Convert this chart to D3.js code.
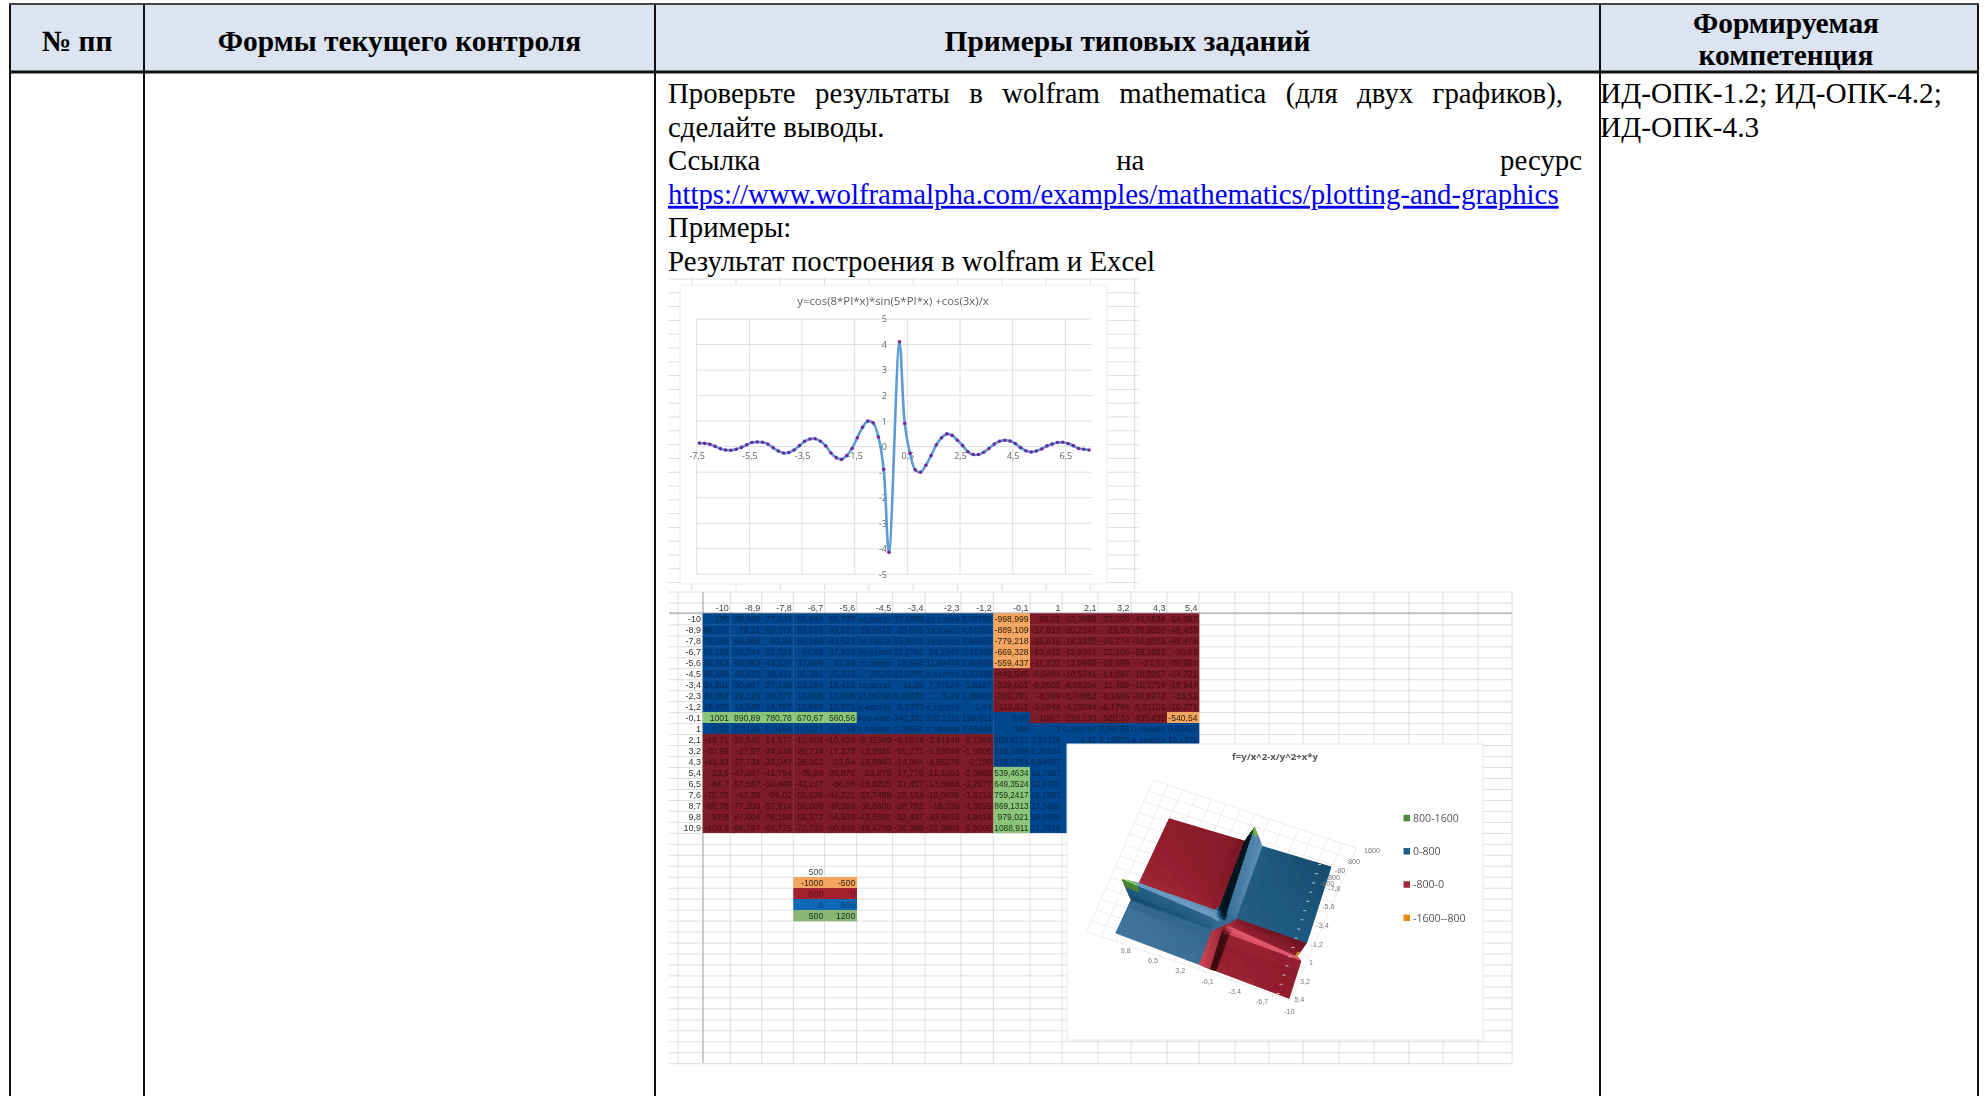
<!DOCTYPE html>
<html>
<head>
<meta charset="utf-8">
<script src="https://cdn.jsdelivr.net/npm/d3@7"></script>
<style>
  html, body { margin: 0; background: #fff; }
  svg { display: block; }
  .doc { font-family: "Liberation Serif", serif; fill: #000; }
  .sheet { font-family: "Liberation Sans", sans-serif; }
  .axis path { display: none; }
  .axis line { stroke: none; }
</style>
</head>
<body>
<svg id="page" width="1985" height="1096"></svg>
<script>
// table text
var headerCells = ["№ пп", "Формы текущего контроля", "Примеры типовых заданий"];
var headerLast = ["Формируемая", "компетенция"];
var bodyLines = [
  "Проверьте результаты в wolfram mathematica (для двух графиков),",
  "сделайте выводы.",
  "Ссылка на ресурс",
  "https://www.wolframalpha.com/examples/mathematics/plotting-and-graphics",
  "Примеры:",
  "Результат построения в wolfram и Excel"
];
var competenceLines = ["ИД-ОПК-1.2; ИД-ОПК-4.2;", "ИД-ОПК-4.3"];

// first chart, values
var lineTitle = "y=cos(8*PI*x)*sin(5*PI*x) +cos(3x)/x";
var lineX = [-7.4,-7.2,-7,-6.8,-6.6,-6.4,-6.2,-6,-5.8,-5.6,-5.4,-5.2,-5,-4.8,-4.6,-4.4,-4.2,-4,-3.8,-3.6,
  -3.4,-3.2,-3,-2.8,-2.6,-2.4,-2.2,-2,-1.8,-1.6,-1.4,-1.2,-1,-0.8,-0.6,-0.4,-0.2,
  0.2,0.4,0.6,0.8,1,1.2,1.4,1.6,1.8,2,2.2,2.4,2.6,2.8,3,3.2,3.4,3.6,3.8,
  4,4.2,4.4,4.6,4.8,5,5.2,5.4,5.6,5.8,6,6.2,6.4,6.6,6.8,7,7.2,7.4];
var lineY = [.14,.13,.09,.01,-.08,-.13,-.14,-.1,-.03,.07,.16,.18,.17,.1,-.04,-.17,-.25,-.23,-.13,.04,
  .21,.3,.31,.21,.03,-.25,-.43,-.5,-.35,-.07,.35,.76,1,.93,.38,-.89,-4.14,
  4.11,.91,-.26,-.91,-1,-.73,-.35,.07,.35,.5,.44,.25,.04,-.2,-.31,-.31,-.22,-.07,.1,
  .21,.25,.22,.12,-.04,-.16,-.21,-.17,-.09,.03,.1,.16,.17,.12,.04,-.07,-.1,-.13];
var lineXTicks = [-7.5,-5.5,-3.5,-1.5,0.5,2.5,4.5,6.5];
var lineYTicks = [-5,-4,-3,-2,-1,0,1,2,3,4,5];

// spreadsheet
var sheetCols = [-10,-8.9,-7.8,-6.7,-5.6,-4.5,-3.4,-2.3,-1.2,-0.1,1,2.1,3.2,4.3,5.4];
var sheetRows = [-10,-8.9,-7.8,-6.7,-5.6,-4.5,-3.4,-2.3,-1.2,-0.1,1,2.1,3.2,4.3,5.4,6.5,7.6,8.7,9.8,10.9];
var sheetValues = [
  [100,88.965,77.934,66.844,55.737,44.55537,33.1689,21.13264,5.06756,-998.999,-20.01,-23.2688,-33.009,-43.5838,-54.397],
  [89.037,79.21,69.372,59.516,49.627,39.6673,29.555,18.81662,4.51459,-889.109,-17.813,-20.7347,-29.39,-38.8056,-48.433],
  [78.086,69.468,60.84,52.196,43.523,34.78878,25.9011,16.50332,3.96305,-779.218,-15.616,-18.1832,-25.774,-34.0325,-42.476],
  [67.156,59.744,52.324,44.89,37.433,29.91938,22.2762,14.1947,3.41395,-669.328,-13.422,-15.6361,-22.166,-29.2681,-36.53],
  [56.263,50.053,43.837,37.609,31.36,25.06895,18.664,11.89474,2.86938,-559.437,-11.232,-13.0968,-18.569,-24.52,-30.604],
  [45.449,40.433,35.411,30.381,25.333,20.25,15.0786,9.612919,2.33426,-449.545,-9.0494,-10.5741,-14.997,-19.8057,-24.721],
  [34.831,30.987,27.139,23.284,19.416,15.52137,11.56,7.37624,1.8227,-339.651,-6.8865,-8.09264,-11.489,-15.1759,-18.944],
  [24.867,22.123,19.377,16.625,13.865,11.08708,8.26378,5.29,1.38962,-229.751,-4.789,-5.74852,-8.1695,-10.8272,-13.52],
  [18.932,16.845,14.757,12.666,10.571,8.465741,6.3373,4.130379,1.44,-119.811,-3.0944,-4.25044,-6.1794,-8.21101,-10.271],
  [1001,890.89,780.78,670.67,560.56,450.4455,340.331,230.2111,120.051,0.01,-100.2,-210.233,-320.33,-430.435,-540.54],
  [0.01,0.0126,0.0164,0.0223,0.0319,0.049383,0.08651,0.189036,0.69444,100,1,0.226757,0.09766,0.054083,0.03429],
  [-18.71,-16.645,-14.577,-12.504,-10.423,-8.32589,-6.1874,-3.91148,-0.7896,209.8127,3.97328,4.41,5.19965,8.168518,10.1875],
  [-30.99,-27.57,-24.146,-20.714,-17.273,-13.8025,-10.271,-6.53048,-1.5006,319.6898,6.30234,6.9,10.24,13.8,17.2],
  [-42.42,-37.734,-33.047,-28.352,-23.64,-18.8943,-14.064,-8.95275,-2.109,429.5754,8.54597,9.2,13.9,18.49,23.2],
  [-53.6,-47.687,-41.764,-35.83,-29.876,-23.879,-17.776,-11.3203,-2.6888,539.4634,10.7657,11.5,17.4,23.2,29.2],
  [-64.7,-57.557,-50.409,-43.247,-36.06,-28.8225,-21.457,-13.6668,-3.2577,649.3524,12.9763,13.8,20.9,28,35.2],
  [-75.75,-67.39,-59.02,-50.635,-42.221,-33.7468,-25.124,-16.0035,-3.8214,759.2417,15.1827,16.1,24.4,32.7,41.1],
  [-86.78,-77.203,-67.614,-58.008,-48.369,-38.6609,-28.782,-18.335,-4.3825,869.1313,17.3868,18.5,27.9,37.4,47],
  [-97.8,-87.004,-76.198,-65.372,-54.509,-43.5692,-32.437,-20.6633,-4.9419,979.021,19.5896,20.8,31.4,42.1,52.9],
  [-108.8,-96.797,-84.775,-72.731,-60.645,-48.4739,-36.088,-22.9901,-5.5005,1088.911,21.7916,23.1,34.9,46.9,58.9]
];
var rangeTop = 500;
var rangeRows = [[-1000,-500],[-500,0],[0,500],[500,1200]];

// surface chart
var surfaceTitle = "f=y/x^2-x/y^2+x*y";
var surfaceLegend = ["800-1600","0-800","-800-0","-1600--800"];
var surfaceFrontTicks = [0,3,6,9,12,15,18];
var surfaceSideTicks = [14,12,10,8,6,4,2];
var surfaceZTexts = ["1600","800","-80","800","-800"];

var svg = d3.select("#page");
var comma = function (v) { return String(v).replace(".", ","); };

var defs = svg.append("defs");
defs.append("filter").attr("id", "soft")
  .attr("x", "-2%").attr("y", "-2%").attr("width", "104%").attr("height", "104%")
  .append("feGaussianBlur").attr("stdDeviation", 0.55);

// ---- document table ----
var colX = [10, 144, 655, 1600, 1978];
var table = svg.append("g").attr("class", "doc");

table.append("rect").attr("x", 10).attr("y", 4).attr("width", 1968).attr("height", 68).attr("fill", "#dce4f1");

table.selectAll(".vrule").data(colX).enter().append("line")
  .attr("x1", function (d) { return d; }).attr("x2", function (d) { return d; })
  .attr("y1", 4).attr("y2", 1096)
  .attr("stroke", "#111").attr("stroke-width", 2);
table.append("line").attr("x1", 9).attr("x2", 1979).attr("y1", 4).attr("y2", 4).attr("stroke", "#444").attr("stroke-width", 2);
table.append("line").attr("x1", 9).attr("x2", 1979).attr("y1", 72).attr("y2", 72).attr("stroke", "#111").attr("stroke-width", 3);

var headFont = 29.4, bodyFont = 28.8;

table.selectAll(".head").data(headerCells).enter().append("text")
  .attr("x", function (d, i) { return (colX[i] + colX[i + 1]) / 2; })
  .attr("y", 51)
  .attr("text-anchor", "middle")
  .attr("font-weight", "bold")
  .attr("font-size", headFont)
  .text(function (d) { return d; });

table.selectAll(".headLast").data(headerLast).enter().append("text")
  .attr("x", 1786)
  .attr("y", function (d, i) { return 33 + i * 32; })
  .attr("text-anchor", "middle")
  .attr("font-weight", "bold")
  .attr("font-size", headFont)
  .text(function (d) { return d; });

// lines 0 and 2 are justified in the document, so stretch the word gaps
var justifyTo = {0: 1563 - 668, 2: 1582 - 668};
table.selectAll(".bodyLine").data(bodyLines).enter().append("text")
  .attr("x", 668)
  .attr("y", function (d, i) { return 103 + i * 33.6; })
  .attr("font-size", bodyFont)
  .attr("fill", function (d, i) { return i === 3 ? "#0000ee" : "#000"; })
  .attr("text-decoration", function (d, i) { return i === 3 ? "underline" : null; })
  .text(function (d) { return d; })
  .each(function (d, i) {
    if (justifyTo[i] === undefined) return;
    var gaps = d.split(" ").length - 1;
    var extra = (justifyTo[i] - this.getComputedTextLength()) / gaps;
    d3.select(this).attr("word-spacing", extra);
  });

table.selectAll(".comp").data(competenceLines).enter().append("text")
  .attr("x", 1600)
  .attr("y", function (d, i) { return 103 + i * 33.6; })
  .attr("font-size", 29.3)
  .text(function (d) { return d; });

// ---- first screenshot: sheet grid + line chart ----
var shot1 = svg.append("g").attr("filter", "url(#soft)");

function sheetGrid(g, xs, ys, x0, x1, y0, y1) {
  g.selectAll(".gv").data(xs).enter().append("line")
    .attr("x1", function (d) { return d; }).attr("x2", function (d) { return d; })
    .attr("y1", y0).attr("y2", y1)
    .attr("stroke", "#dedede");
  g.selectAll(".gh").data(ys).enter().append("line")
    .attr("x1", x0).attr("x2", x1)
    .attr("y1", function (d) { return d; }).attr("y2", function (d) { return d; })
    .attr("stroke", "#dedede");
}
sheetGrid(shot1.append("g"), d3.range(691.7, 1140, 44.3), d3.range(279, 590, 13.8), 668, 1139, 277, 590);

shot1.append("rect").attr("x", 680).attr("y", 285).attr("width", 427).attr("height", 299)
  .attr("fill", "#fff").attr("stroke", "#ececec");

shot1.append("text").attr("x", 893).attr("y", 305).attr("text-anchor", "middle")
  .attr("font-family", "Open Sans").attr("font-size", 11.4).attr("fill", "#5f5f5f").text(lineTitle);

var lx = d3.scaleLinear().domain([-7.5, 7.5]).range([696.7, 1091.7]);
var ly = d3.scaleLinear().domain([-5, 5]).range([574.3, 319]);

// gridlines
shot1.append("g").selectAll("line").data(lineYTicks).enter().append("line")
  .attr("x1", lx(-7.5)).attr("x2", lx(7.5))
  .attr("y1", function (d) { return ly(d); }).attr("y2", function (d) { return ly(d); })
  .attr("stroke", "#dfdfdf");
shot1.append("g").selectAll("line").data(lineXTicks).enter().append("line")
  .attr("x1", function (d) { return lx(d); }).attr("x2", function (d) { return lx(d); })
  .attr("y1", ly(5)).attr("y2", ly(-5))
  .attr("stroke", "#dfdfdf");

var xAxis = shot1.append("g").attr("class", "axis")
  .attr("transform", "translate(0," + ly(0) + ")")
  .call(d3.axisBottom(lx).tickValues(lineXTicks).tickSize(0).tickPadding(6).tickFormat(comma));
var yAxis = shot1.append("g").attr("class", "axis")
  .attr("transform", "translate(" + lx(-0.2) + ",0)")
  .call(d3.axisLeft(ly).tickValues(lineYTicks).tickSize(0).tickPadding(2).tickFormat(comma));
shot1.selectAll(".axis text").attr("font-family", "Open Sans").attr("font-size", 9).attr("fill", "#666");

var linePoints = lineX.map(function (x, i) { return [x, lineY[i]]; });
shot1.append("path").datum(linePoints)
  .attr("fill", "none").attr("stroke", "#5b9bd5").attr("stroke-width", 2.6)
  .attr("d", d3.line().x(function (d) { return lx(d[0]); }).y(function (d) { return ly(d[1]); }).curve(d3.curveCatmullRom.alpha(0.5)));
shot1.append("g").selectAll("circle").data(linePoints).enter().append("circle")
  .attr("cx", function (d) { return lx(d[0]); })
  .attr("cy", function (d) { return ly(d[1]); })
  .attr("r", 1.8)
  .attr("fill", "#702a9e");

// ---- second screenshot: spreadsheet heat table ----
var shot2 = svg.append("g").attr("class", "sheet").attr("filter", "url(#soft)");

var rowY = d3.scaleBand().domain(d3.range(sheetRows.length)).range([613.3, 832.7]);
var colEdges = [702.7, 730.3, 761.7, 793.3, 824.7, 856.7, 892.7, 925, 961, 993.3, 1030, 1062, 1098, 1131, 1167, 1199];
var sheetEnd = [1235, 1269, 1303, 1339, 1374, 1409, 1443, 1478, 1512];

var gridX = [678].concat(colEdges, sheetEnd);
var gridY = d3.range(592, 1064, 10.97);
sheetGrid(shot2.append("g"), gridX, gridY, 669, 1512, 592, 1063);

shot2.append("line").attr("x1", 669).attr("x2", 1512).attr("y1", 613).attr("y2", 613).attr("stroke", "#999");
shot2.append("line").attr("x1", 703).attr("x2", 703).attr("y1", 592).attr("y2", 1063).attr("stroke", "#aaa");

var cellFill = d3.scaleThreshold().domain([-500, 0, 500]).range(["#f4a55f", "#7d1b27", "#04468f", "#8cc57c"]);
var cellInk = d3.scaleThreshold().domain([-500, 0, 500]).range(["#2f2008", "#470b14", "#062a58", "#142e0f"]);

var cells = [];
sheetValues.forEach(function (row, r) {
  row.forEach(function (v, c) { cells.push({r: r, c: c, v: v}); });
});

shot2.append("g").selectAll("rect").data(cells).enter().append("rect")
  .attr("x", function (d) { return colEdges[d.c]; })
  .attr("y", function (d) { return rowY(d.r); })
  .attr("width", function (d) { return colEdges[d.c + 1] - colEdges[d.c] + 0.3; })
  .attr("height", rowY.bandwidth() + 0.3)
  .attr("fill", function (d) { return cellFill(d.v); });

shot2.append("g").selectAll("text").data(cells).enter().append("text")
  .attr("x", function (d) { return colEdges[d.c + 1] - 1.5; })
  .attr("y", function (d) { return rowY(d.r) + 8.8; })
  .attr("text-anchor", "end")
  .attr("font-size", 8.6)
  .attr("fill", function (d) { return cellInk(d.v); })
  .text(function (d) { return comma(d.v); })
  .each(function (d) {
    // long numbers get a smaller size to stay inside their own cell
    var room = colEdges[d.c + 1] - colEdges[d.c] - 2.5;
    var len = this.getComputedTextLength();
    if (len > room) d3.select(this).attr("font-size", 8.6 * room / len);
  });

shot2.append("g").selectAll("text").data(sheetCols).enter().append("text")
  .attr("x", function (d, i) { return colEdges[i + 1] - 1.5; })
  .attr("y", 610.5)
  .attr("text-anchor", "end").attr("font-size", 9).attr("fill", "#444")
  .text(comma);
shot2.append("g").selectAll("text").data(sheetRows).enter().append("text")
  .attr("x", 701)
  .attr("y", function (d, i) { return rowY(i) + 9; })
  .attr("text-anchor", "end").attr("font-size", 9).attr("fill", "#333")
  .text(comma);

// small range table under the heat map
var rangeX = [793.3, 824.7, 856.7];
var rangeFill = ["#f4a55f", "#a1222f", "#0b69b5", "#8bb577"];
var rangeInk = ["#2f2008", "#5a1018", "#063a7a", "#142e0f"];
var rangeG = shot2.append("g");
rangeG.append("text").attr("x", 823).attr("y", 875).attr("text-anchor", "end").attr("font-size", 8.6).attr("fill", "#444").text(rangeTop);
rangeRows.forEach(function (pair, i) {
  pair.forEach(function (v, j) {
    rangeG.append("rect").attr("x", rangeX[j]).attr("y", 877 + i * 11)
      .attr("width", rangeX[j + 1] - rangeX[j] + 0.3).attr("height", 11.3).attr("fill", rangeFill[i]);
  });
});
rangeRows.forEach(function (pair, i) {
  pair.forEach(function (v, j) {
    rangeG.append("text").attr("x", rangeX[j + 1] - 1.5).attr("y", 885.8 + i * 11)
      .attr("text-anchor", "end").attr("font-size", 8.6).attr("fill", rangeInk[i]).text(v);
  });
});

// ---- surface chart ----
var shot3 = svg.append("g").attr("class", "sheet").attr("filter", "url(#soft)");
shot3.append("rect").attr("x", 1067).attr("y", 744).attr("width", 416).attr("height", 296)
  .attr("fill", "#fff").attr("stroke", "#e6e6e6");

shot3.append("text").attr("x", 1275).attr("y", 760).attr("text-anchor", "middle")
  .attr("font-family", "Open Sans").attr("font-weight", "bold").attr("font-size", 9.6).attr("fill", "#555").text(surfaceTitle);

// bilinear floor plus a small perspective lift, fitted to the screenshot
var nRow = sheetRows.length - 1, nCol = sheetCols.length - 1;
var frontX = d3.scaleLinear().domain([0, nRow]).range([1289.3, 1116.7]);
var frontY = d3.scaleLinear().domain([0, nRow]).range([998.3, 933.3]);
var backX = d3.scaleLinear().domain([0, nRow]).range([1330, 1168.3]);
var backY = d3.scaleLinear().domain([0, nRow]).range([868.3, 816.7]);
var depth = d3.scaleLinear().domain([nCol, 0]).range([0, 1]);
var lift = d3.scaleLinear().domain([0, 1000]).range([0, 0.11]);

function project(r, c, z) {
  var t = depth(c);
  var x = frontX(r) + (backX(r) - frontX(r)) * t;
  var y = frontY(r) + (backY(r) - frontY(r)) * t;
  var k = 1 + lift(z);
  return [1215 + (x - 1215) * k - 0.003 * z, 916.7 + (y - 916.7) * k - 0.0083 * z];
}

// back planes of the chart box
var wallA = [1086.7, 931.7], wallB = [1153.3, 780], wallC = [1356.7, 848.3];
var wall = shot3.append("g").attr("stroke", "#ededed").attr("fill", "none");
d3.range(0, 1.001, 1 / 14).forEach(function (t) {
  var a = d3.interpolate(wallA, wallB)(t), b = d3.interpolate(wallB, wallC)(t);
  wall.append("line").attr("x1", a[0]).attr("y1", a[1]).attr("x2", a[0] + wallC[0] - wallB[0]).attr("y2", a[1] + wallC[1] - wallB[1]);
  wall.append("line").attr("x1", b[0]).attr("y1", b[1]).attr("x2", b[0] + wallA[0] - wallB[0]).attr("y2", b[1] + wallA[1] - wallB[1]);
});

var surfaceBand = d3.scaleThreshold().domain([-800, 0, 800]).range([
  d3.scaleLinear().domain([0, 0.5, 1]).range(["#6b3a05", "#e88a1e", "#f8c070"]),
  d3.scaleLinear().domain([0, 0.5, 1]).range(["#3d0710", "#931e2d", "#e0566c"]),
  d3.scaleLinear().domain([0, 0.36, 0.5, 1]).range(["#03161f", "#1c587f", "#2a6189", "#6a9ac0"]),
  d3.scaleLinear().domain([0, 0.5, 1]).range(["#1d3d12", "#4f8c3a", "#8ccc5a"])
]);
var squash = function (g) { return (g < 0 ? -1 : 1) * Math.log1p(Math.abs(g) / 4) / Math.log1p(250); };
var sub = 3;

var facets = [];
d3.range(nRow).forEach(function (r) {
  d3.range(nCol).forEach(function (c) {
    var z00 = sheetValues[r][c], z01 = sheetValues[r][c + 1], z10 = sheetValues[r + 1][c], z11 = sheetValues[r + 1][c + 1];
    var zAt = function (u, v) { return z00 * (1 - u) * (1 - v) + z01 * (1 - u) * v + z10 * u * (1 - v) + z11 * u * v; };
    d3.range(sub).forEach(function (i) {
      d3.range(sub).forEach(function (j) {
        var u0 = i / sub, u1 = (i + 1) / sub, v0 = j / sub, v1 = (j + 1) / sub;
        var um = (u0 + u1) / 2, vm = (v0 + v1) / 2;
        var zm = zAt(um, vm);
        var gr = (1 - vm) * (z10 - z00) + vm * (z11 - z01);
        var gc = (1 - um) * (z01 - z00) + um * (z11 - z10);
        var lum = Math.max(0, Math.min(1, 0.5 + 0.5 * squash(gr) + 0.36 * squash(gc)));
        facets.push({
          z: zm,
          fill: surfaceBand(zm)(lum),
          pts: [[u0, v0], [u0, v1], [u1, v1], [u1, v0]].map(function (p) {
            return project(r + p[0], c + p[1], zAt(p[0], p[1]));
          })
        });
      });
    });
  });
});
facets.sort(function (a, b) { return d3.ascending(a.z, b.z); });

shot3.append("g").selectAll("path").data(facets).enter().append("path")
  .attr("d", function (d) { return "M" + d.pts.join("L") + "Z"; })
  .attr("fill", function (d) { return d.fill; })
  .attr("stroke", function (d) { return d.fill; })
  .attr("stroke-width", 1);

// white tick dashes lying on the surface
shot3.append("g").selectAll("line").data(d3.range(0, nCol + 1)).enter().append("line")
  .each(function (c) {
    var p = project(1.4, c, 0);
    d3.select(this).attr("x1", p[0]).attr("y1", p[1]).attr("x2", p[0] + 3).attr("y2", p[1]);
  })
  .attr("stroke", "#e8e8e8").attr("stroke-width", 0.8);

var tick3d = shot3.append("g").attr("font-size", 7.2).attr("fill", "#777").attr("text-anchor", "middle");
tick3d.selectAll(".front").data(surfaceFrontTicks).enter().append("text")
  .attr("x", function (r) { return project(r, nCol, 0)[0]; })
  .attr("y", function (r) { return project(r, nCol, 0)[1] + 16; })
  .text(function (r) { return comma(sheetRows[r]); });
tick3d.selectAll(".side").data(surfaceSideTicks).enter().append("text")
  .attr("x", function (c) { return project(0, c, 0)[0] + 10; })
  .attr("y", function (c) { return project(0, c, 0)[1] + 4; })
  .text(function (c) { return comma(sheetCols[c]); });

// z axis labels sit in a crowded stack on the right corner
var zY = [853, 864, 873, 880, 886];
var zXs = [1372, 1354, 1340, 1334, 1327];
tick3d.selectAll(".zt").data(surfaceZTexts).enter().append("text")
  .attr("x", function (d, i) { return zXs[i]; })
  .attr("y", function (d, i) { return zY[i]; })
  .text(function (d) { return d; });

var legendY = d3.scaleLinear().domain([0, 3]).range([818, 917.7]);
var legendFill = ["#4f8a42", "#215c88", "#a02a3a", "#ed8a1a"];
var legend3d = shot3.append("g");
legend3d.selectAll("rect").data(surfaceLegend).enter().append("rect")
  .attr("x", 1403.5).attr("y", function (d, i) { return legendY(i) - 3.2; })
  .attr("width", 6.5).attr("height", 6.5)
  .attr("fill", function (d, i) { return legendFill[i]; });
legend3d.selectAll("text").data(surfaceLegend).enter().append("text")
  .attr("x", 1413).attr("y", function (d, i) { return legendY(i) + 4; })
  .attr("font-family", "Open Sans").attr("font-size", 10.6).attr("fill", "#555")
  .text(function (d) { return d; });
</script>
</body>
</html>
